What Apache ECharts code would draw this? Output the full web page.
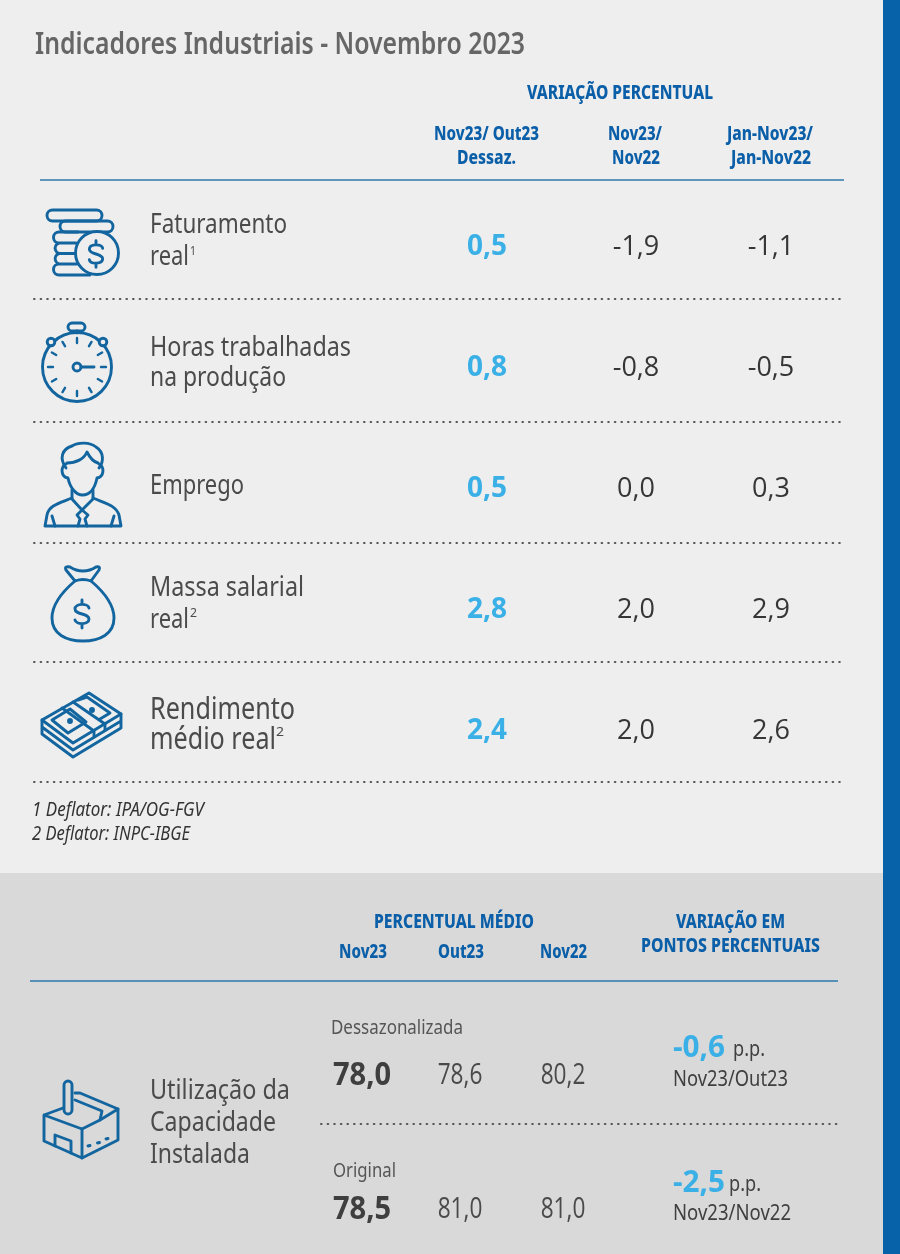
<!DOCTYPE html>
<html><head><meta charset="utf-8">
<style>html,body{margin:0;padding:0;background:#eee}#c{width:900px;height:1254px}</style>
<script src="https://cdn.jsdelivr.net/npm/echarts@6/dist/echarts.min.js"></script>
</head><body><div id="c"></div>
<script>
// ---- data ----
const indicators = ['Faturamento real', 'Horas trabalhadas na produção', 'Emprego', 'Massa salarial real', 'Rendimento médio real'];
const varNov23Out23 = [0.5, 0.8, 0.5, 2.8, 2.4];
const varNov23Nov22 = [-1.9, -0.8, 0.0, 2.0, 2.0];
const varJanNov = [-1.1, -0.5, 0.3, 2.9, 2.6];
const capacityRows = ['Dessazonalizada', 'Original'];
const capNov23 = [78.0, 78.5];
const capOut23 = [78.6, 81.0];
const capNov22 = [80.2, 81.0];
const capDelta = [-0.6, -2.5];

const BLUE = '#0b5fa8', SKY = '#3bb0e6', DARK = '#3f3f3f', ICON = '#12659f';
const FONT = '"Noto Sans"', NUM = '"Open Sans"';
const fmt = v => v.toFixed(1).replace('.', ',');

// text fitted to a target width
const mctx = document.createElement('canvas').getContext('2d');
function T(x1, x2, y, text, size, color, weight, italic) {
  weight = weight || 400;
  const font = (italic ? 'italic ' : '') + weight + ' ' + size + 'px ' + FONT;
  mctx.font = font;
  const s = (x2 - x1) / mctx.measureText(text).width;
  return { type: 'text', x: x1, y: y + 1, scaleX: s, silent: true, z: 5,
    style: { text, x: 0, y: 0, font, fill: color, align: 'left', verticalAlign: 'middle' } };
}
const L = (x1, x2, y, color, w, dash) => ({ type: 'line', silent: true, z: 3,
  shape: { x1, y1: y, x2, y2: y },
  style: { stroke: color, lineWidth: w, lineDash: dash || null, lineCap: dash ? 'round' : 'butt' } });
const R = (x, y, w, h, c) => ({ type: 'rect', silent: true, z: -10, shape: { x, y, width: w, height: h }, style: { fill: c } });
const SW = 2.9;
const P = (d, w) => ({ type: 'path', shape: { pathData: d },
  style: { fill: 'none', stroke: ICON, lineWidth: w || SW, lineJoin: 'round', lineCap: 'round' } });
const RR = (x, y, w, h, r) => ({ type: 'rect', shape: { x, y, width: w, height: h, r },
  style: { fill: 'none', stroke: ICON, lineWidth: SW } });
const C = (cx, cy, r, fill) => ({ type: 'circle', shape: { cx, cy, r },
  style: { fill: fill || 'none', stroke: ICON, lineWidth: SW } });
function dollar(cx, cy, s) {
  const f = (a, b) => (cx + a * s) + ' ' + (cy + b * s);
  return P('M' + f(7, -6) + ' C' + f(6, -11) + ' ' + f(-7, -11) + ' ' + f(-7, -5) + ' C' + f(-7, 1) + ' ' + f(7, -1) + ' ' + f(7, 5) +
    ' C' + f(7, 11) + ' ' + f(-6, 11) + ' ' + f(-7, 6) + ' M' + f(0, -14) + ' L' + f(0, -10) + ' M' + f(0, 10) + ' L' + f(0, 14));
}

const g = [], icons = [];
// backgrounds
g.push(R(0, 0, 900, 873, '#eeeeee'), R(0, 873, 900, 381, '#d9d9d9'), R(883, 0, 17, 1254, '#0862a9'));

// upper header
const HW = 800;
g.push(T(35, 525, 44, 'Indicadores Industriais - Novembro 2023', 30, '#666666', 600));
g.push(T(527, 713, 92, 'VARIAÇÃO PERCENTUAL', 20, BLUE, HW));
g.push(T(434, 539, 133, 'Nov23/ Out23', 20, BLUE, HW), T(457, 516, 157, 'Dessaz.', 20, BLUE, HW));
g.push(T(608, 662, 133, 'Nov23/', 20, BLUE, HW), T(612, 660, 157, 'Nov22', 20, BLUE, HW));
g.push(T(727, 813, 133, 'Jan-Nov23/', 20, BLUE, HW), T(731, 811, 157, 'Jan-Nov22', 20, BLUE, HW));
g.push(L(40, 844, 180, '#2b78ad', 1.6));

// row labels
const LBL = '#4b4b4b';
g.push(T(150, 287, 224, 'Faturamento', 28, LBL), T(150, 189, 256, 'real', 28, LBL), T(190, 196, 250, '1', 13, LBL));
g.push(T(150, 351, 347, 'Horas trabalhadas', 28, LBL), T(150, 286, 377, 'na produção', 28, LBL));
g.push(T(150, 244, 485, 'Emprego', 28, LBL));
g.push(T(150, 304, 587, 'Massa salarial', 28, LBL), T(150, 189, 619, 'real', 28, LBL), T(190, 197, 612, '2', 13, LBL));
g.push(T(150, 295, 709, 'Rendimento', 30, LBL), T(150, 276, 739, 'médio real', 30, LBL), T(276, 284, 731, '2', 13, LBL));

// dotted separators
[299, 422, 543, 662, 782].forEach(y => g.push(L(34, 842, y, '#555555', 2, [0.6, 6])));

// footnotes
g.push(T(32, 204, 810, '1 Deflator: IPA/OG-FGV', 19, '#333333', 400, true));
g.push(T(32, 190, 834, '2 Deflator: INPC-IBGE', 19, '#333333', 400, true));

// lower header
g.push(T(374, 534, 921, 'PERCENTUAL MÉDIO', 20, BLUE, HW));
g.push(T(339, 387, 951, 'Nov23', 20, BLUE, HW), T(438, 484, 951, 'Out23', 20, BLUE, HW), T(540, 587, 951, 'Nov22', 20, BLUE, HW));
g.push(T(676, 785, 921, 'VARIAÇÃO EM', 20, BLUE, HW), T(641, 820, 945, 'PONTOS PERCENTUAIS', 20, BLUE, HW));
g.push(L(30, 838, 981, '#2b78ad', 1.6));
g.push(L(321, 838, 1124, '#555555', 2, [0.6, 6]));
g.push(T(331, 463, 1027, capacityRows[0], 20, '#555555'), T(333, 396, 1170, capacityRows[1], 20, '#555555'));
g.push(T(733, 765, 1049, 'p.p.', 22, DARK), T(729, 761, 1184, 'p.p.', 22, DARK));
g.push(T(673, 788, 1079, 'Nov23/Out23', 22, DARK), T(673, 791, 1213, 'Nov23/Nov22', 22, DARK));
g.push(T(150, 290, 1090, 'Utilização da', 28, LBL), T(150, 276, 1122, 'Capacidade', 28, LBL), T(150, 250, 1154, 'Instalada', 28, LBL));

// icon: coins
icons.push(RR(47, 210, 55, 11, 5.5), RR(60, 221, 53, 11, 5.5));
icons.push(P('M78 232 L59 232 A5.5 5.5 0 0 0 59 243 L76 243 M59 243 A5.5 5.5 0 0 0 59 253.5 L75 253.5 M59 253.5 A5.5 5.5 0 0 0 59 264 L77 264 M59 264 A5.5 5.5 0 0 0 59 275 L90 275'));
icons.push(C(97, 253, 21.5, '#eeeeee'));
icons.push(dollar(96, 254, 0.95));
// icon: stopwatch
icons.push(C(77, 367, 34.5), RR(68, 323, 17, 8, 4), P('M77 331 L77 333'), C(51, 342, 3.8, '#eeeeee'), C(103, 342, 3.8, '#eeeeee'));
for (let i = 0; i < 12; i++) {
  const a = i * Math.PI / 6, r1 = 24, r2 = 29;
  const sn = Math.sin(a), cs = Math.cos(a);
  icons.push(P('M' + (77 + r1 * sn) + ' ' + (367 - r1 * cs) + ' L' + (77 + r2 * sn) + ' ' + (367 - r2 * cs), 2.4));
}
icons.push(C(77, 367, 4), P('M81 367 L94 367'));
// icon: person
icons.push(P('M66 468 C59 458 62 449 72 446 C78 442 90 442 96 447 C104 452 104 462 99 468'));
icons.push(P('M67 463 C76 463 84 459 87 452 C90 458 94 462 98 463'));
icons.push(P('M66 464 C60 467 61 477 68 478 C70 488 76 495 82.5 495 C90 495 95 488 97 478 C104 477 105 467 99 464'));
icons.push(P('M72 490 L72 499 L82 510 L93 499 L93 490'));
icons.push(P('M72 498 C60 503 49 505 47 515 L45 526 L121 526 L119 515 C116 505 104 503 93 498'));
icons.push(P('M82 510 L77 515 L80 519 L78 526 M82 510 L88 515 L85 519 L87 526'));
icons.push(P('M55 526 L52 516 M111 526 L114 516'));
// icon: money bag
icons.push(P('M75 581 L66 570 Q64 566 70 567 Q76 571 83 571 Q90 571 96 567 Q101 566 99 570 L91 581 Q83 578 75 581'));
icons.push(P('M75 581 C62 592 52 605 52 618 C52 634 66 641 83 641 C100 641 114 634 114 618 C114 605 104 592 91 581'));
icons.push(dollar(82, 614, 1.0));
// icon: money stack
icons.push(P('M42 720 L89 693 L121 714 L73 743 Z'));
icons.push(P('M42 720 L42 727 L73 750 L121 721 L121 714 M42 727 L42 734 L73 757 L121 728 L121 721'));
icons.push(P('M62 708 L94 731 L94 737 M73 702 L105 724 L105 730'));
icons.push(P('M52 720 L70 709 L86 722 L68 733 Z M78 700 L87 697 L110 713 L100 719'));
icons.push(C(70, 721, 1.5, ICON), C(92, 710, 1.5, ICON));
// icon: factory
icons.push(RR(64, 1081, 8, 33, 4));
icons.push(P('M63 1108 L44 1115 L44 1141 L82 1158 L118 1140 L118 1109 L100 1120 L82 1129 L44 1115'));
icons.push(P('M82 1129 L82 1158 M75 1093 L80 1093 L118 1109 M75 1100 L102 1111 L100 1120'));
icons.push(P('M55 1146 L55 1135 L71 1141 L71 1153'));
icons.push(P('M88 1146 L90 1145.5 M97.5 1143 L99.5 1142.5 M106 1139 L108 1138.5'));

// ---- value tables: one single-column grid per column ----
const grid = [], xAxis = [], yAxis = [], series = [];
function column(name, cx, top, height, rows, values, o) {
  const i = grid.length;
  grid.push({ left: cx - 50, width: 100, top, height, show: false });
  xAxis.push({ type: 'category', gridIndex: i, data: [name], show: false });
  yAxis.push({ type: 'category', gridIndex: i, data: rows, inverse: true, boundaryGap: false, show: false });
  series.push({
    type: 'custom', name, xAxisIndex: i, yAxisIndex: i, silent: true, z: 6,
    encode: { x: 0, y: 1 },
    data: values.map((v, r) => [0, r, v]),
    renderItem(p, api) {
      const c = api.coord([api.value(0), api.value(1)]);
      return { type: 'text', x: c[0], y: c[1], scaleX: o.scale || 1,
        style: { text: fmt(api.value(2)), x: 0, y: 0, fill: o.color,
          font: o.weight + ' ' + o.size + 'px ' + NUM, align: o.align || 'center', verticalAlign: 'middle' } };
    }
  });
}
const blueBold = { color: SKY, size: 28, weight: 700 };
const plain = { color: '#363636', size: 27, weight: 400, scale: 1.0 };
column('Nov23/ Out23 Dessaz.', 487, 247, 484, indicators, varNov23Out23, blueBold);
column('Nov23/ Nov22', 636, 247, 484, indicators, varNov23Nov22, plain);
column('Jan-Nov23/ Jan-Nov22', 771, 247, 484, indicators, varJanNov, plain);
const capBold = { color: DARK, size: 33, weight: 700, scale: 0.88 };
const capPlain = { color: '#4a4a4a', size: 29, weight: 400, scale: 0.78 };
column('Nov23', 362, 1076, 134, capacityRows, capNov23, capBold);
column('Out23', 460, 1076, 134, capacityRows, capOut23, capPlain);
column('Nov22', 563, 1076, 134, capacityRows, capNov22, capPlain);
column('Variação p.p.', 673, 1048, 135, capacityRows, capDelta, { color: SKY, size: 31, weight: 700, scale: 0.96, align: 'left' });

// icons drawn as one decorative custom series
series.push({
  type: 'custom', name: 'icons', coordinateSystem: 'none', silent: true, z: 4, data: [[0]],
  renderItem() { return { type: 'group', children: icons }; }
});

const chart = echarts.init(document.getElementById('c'), null, { renderer: 'canvas', width: 900, height: 1254 });
chart.setOption({ animation: false, grid, xAxis, yAxis, series, graphic: { elements: g } });
</script></body></html>
